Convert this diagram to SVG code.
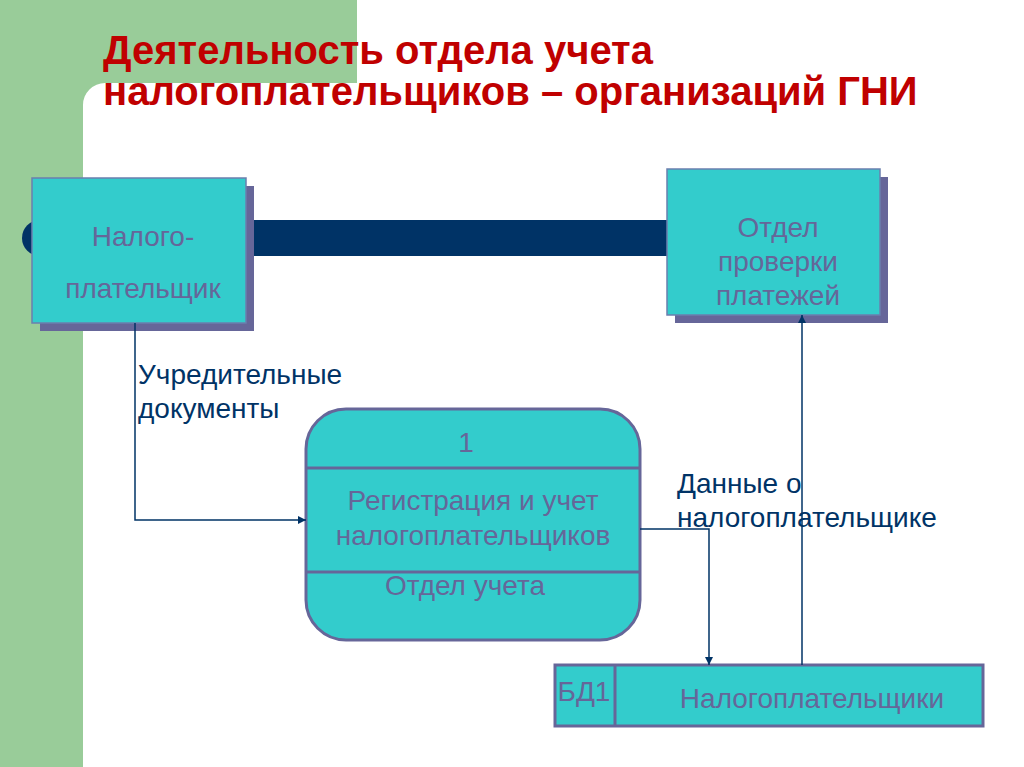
<svg xmlns="http://www.w3.org/2000/svg" width="1024" height="767" viewBox="0 0 1024 767">
<defs>
<style>
.bg{fill:#99CC99}
.box{fill:#33CCCC;stroke:#6B7FAE;stroke-width:1.5}
.shadow{fill:#666699}
.lbl{font-family:"Liberation Sans",Arial,sans-serif;font-size:28px;fill:#666699;text-anchor:middle}
.note{font-family:"Liberation Sans",Arial,sans-serif;font-size:28px;fill:#003366}
.title{font-family:"Liberation Sans",Arial,sans-serif;font-size:40px;font-weight:bold;fill:#C00000}
.proc{fill:#33CCCC;stroke:#666699;stroke-width:3}
.conn{fill:none;stroke:#003366;stroke-width:1.5}
</style>
<marker id="arr" viewBox="0 0 10 10" refX="10" refY="5" markerWidth="8" markerHeight="8" orient="auto" markerUnits="userSpaceOnUse">
<path d="M0,0 L10,5 L0,10 z" fill="#003366"/>
</marker>
</defs>
<rect width="1024" height="767" fill="#ffffff"/>
<g id="background">
<path class="bg" d="M0,0 H357 V83 H105 A22,22 0 0 0 83,105 V767 H0 Z"/>
</g>
<g id="title">
<text class="title" x="103" y="64">Деятельность отдела учета</text>
<text class="title" x="103" y="105">налогоплательщиков – организаций ГНИ</text>
</g>
<g id="bar">
<rect x="22" y="220" width="650" height="36" rx="18" fill="#003366"/>
<rect x="40" y="220" width="632" height="36" fill="#003366"/>
</g>
<g id="taxpayer">
<rect class="shadow" x="40" y="186" width="214" height="145"/>
<rect class="box" x="32" y="178" width="214" height="145"/>
<text class="lbl" x="143" y="246">Налого-</text>
<text class="lbl" x="143" y="298">плательщик</text>
</g>
<g id="check">
<rect class="shadow" x="675" y="177" width="213" height="146"/>
<rect class="box" x="667" y="169" width="213" height="146"/>
<text class="lbl" x="778" y="237">Отдел</text>
<text class="lbl" x="778" y="271">проверки</text>
<text class="lbl" x="778" y="305">платежей</text>
</g>
<g id="process">
<rect class="proc" x="306" y="409" width="334" height="231" rx="40"/>
<line x1="306" y1="468" x2="640" y2="468" stroke="#666699" stroke-width="3"/>
<line x1="306" y1="572" x2="640" y2="572" stroke="#666699" stroke-width="3"/>
<text class="lbl" x="466" y="452">1</text>
<text class="lbl" x="473" y="510">Регистрация и учет</text>
<text class="lbl" x="473" y="545">налогоплательщиков</text>
<text class="lbl" x="465" y="595">Отдел учета</text>
</g>
<g id="store">
<rect class="proc" x="555" y="665" width="428" height="61"/>
<line x1="615" y1="665" x2="615" y2="726" stroke="#666699" stroke-width="3"/>
<text class="lbl" x="584" y="701">БД1</text>
<text class="lbl" x="812" y="708">Налогоплательщики</text>
</g>
<g id="connectors">
<polyline class="conn" points="135,323 135,520 306,520" marker-end="url(#arr)"/>
<polyline class="conn" points="640,529 709,529 709,665" marker-end="url(#arr)"/>
<line class="conn" x1="802" y1="665" x2="802" y2="315" marker-end="url(#arr)"/>
</g>
<g id="labels">
<text class="note" x="138" y="384">Учредительные</text>
<text class="note" x="138" y="418">документы</text>
<text class="note" x="677" y="493">Данные о</text>
<text class="note" x="677" y="527">налогоплательщике</text>
</g>
</svg>
